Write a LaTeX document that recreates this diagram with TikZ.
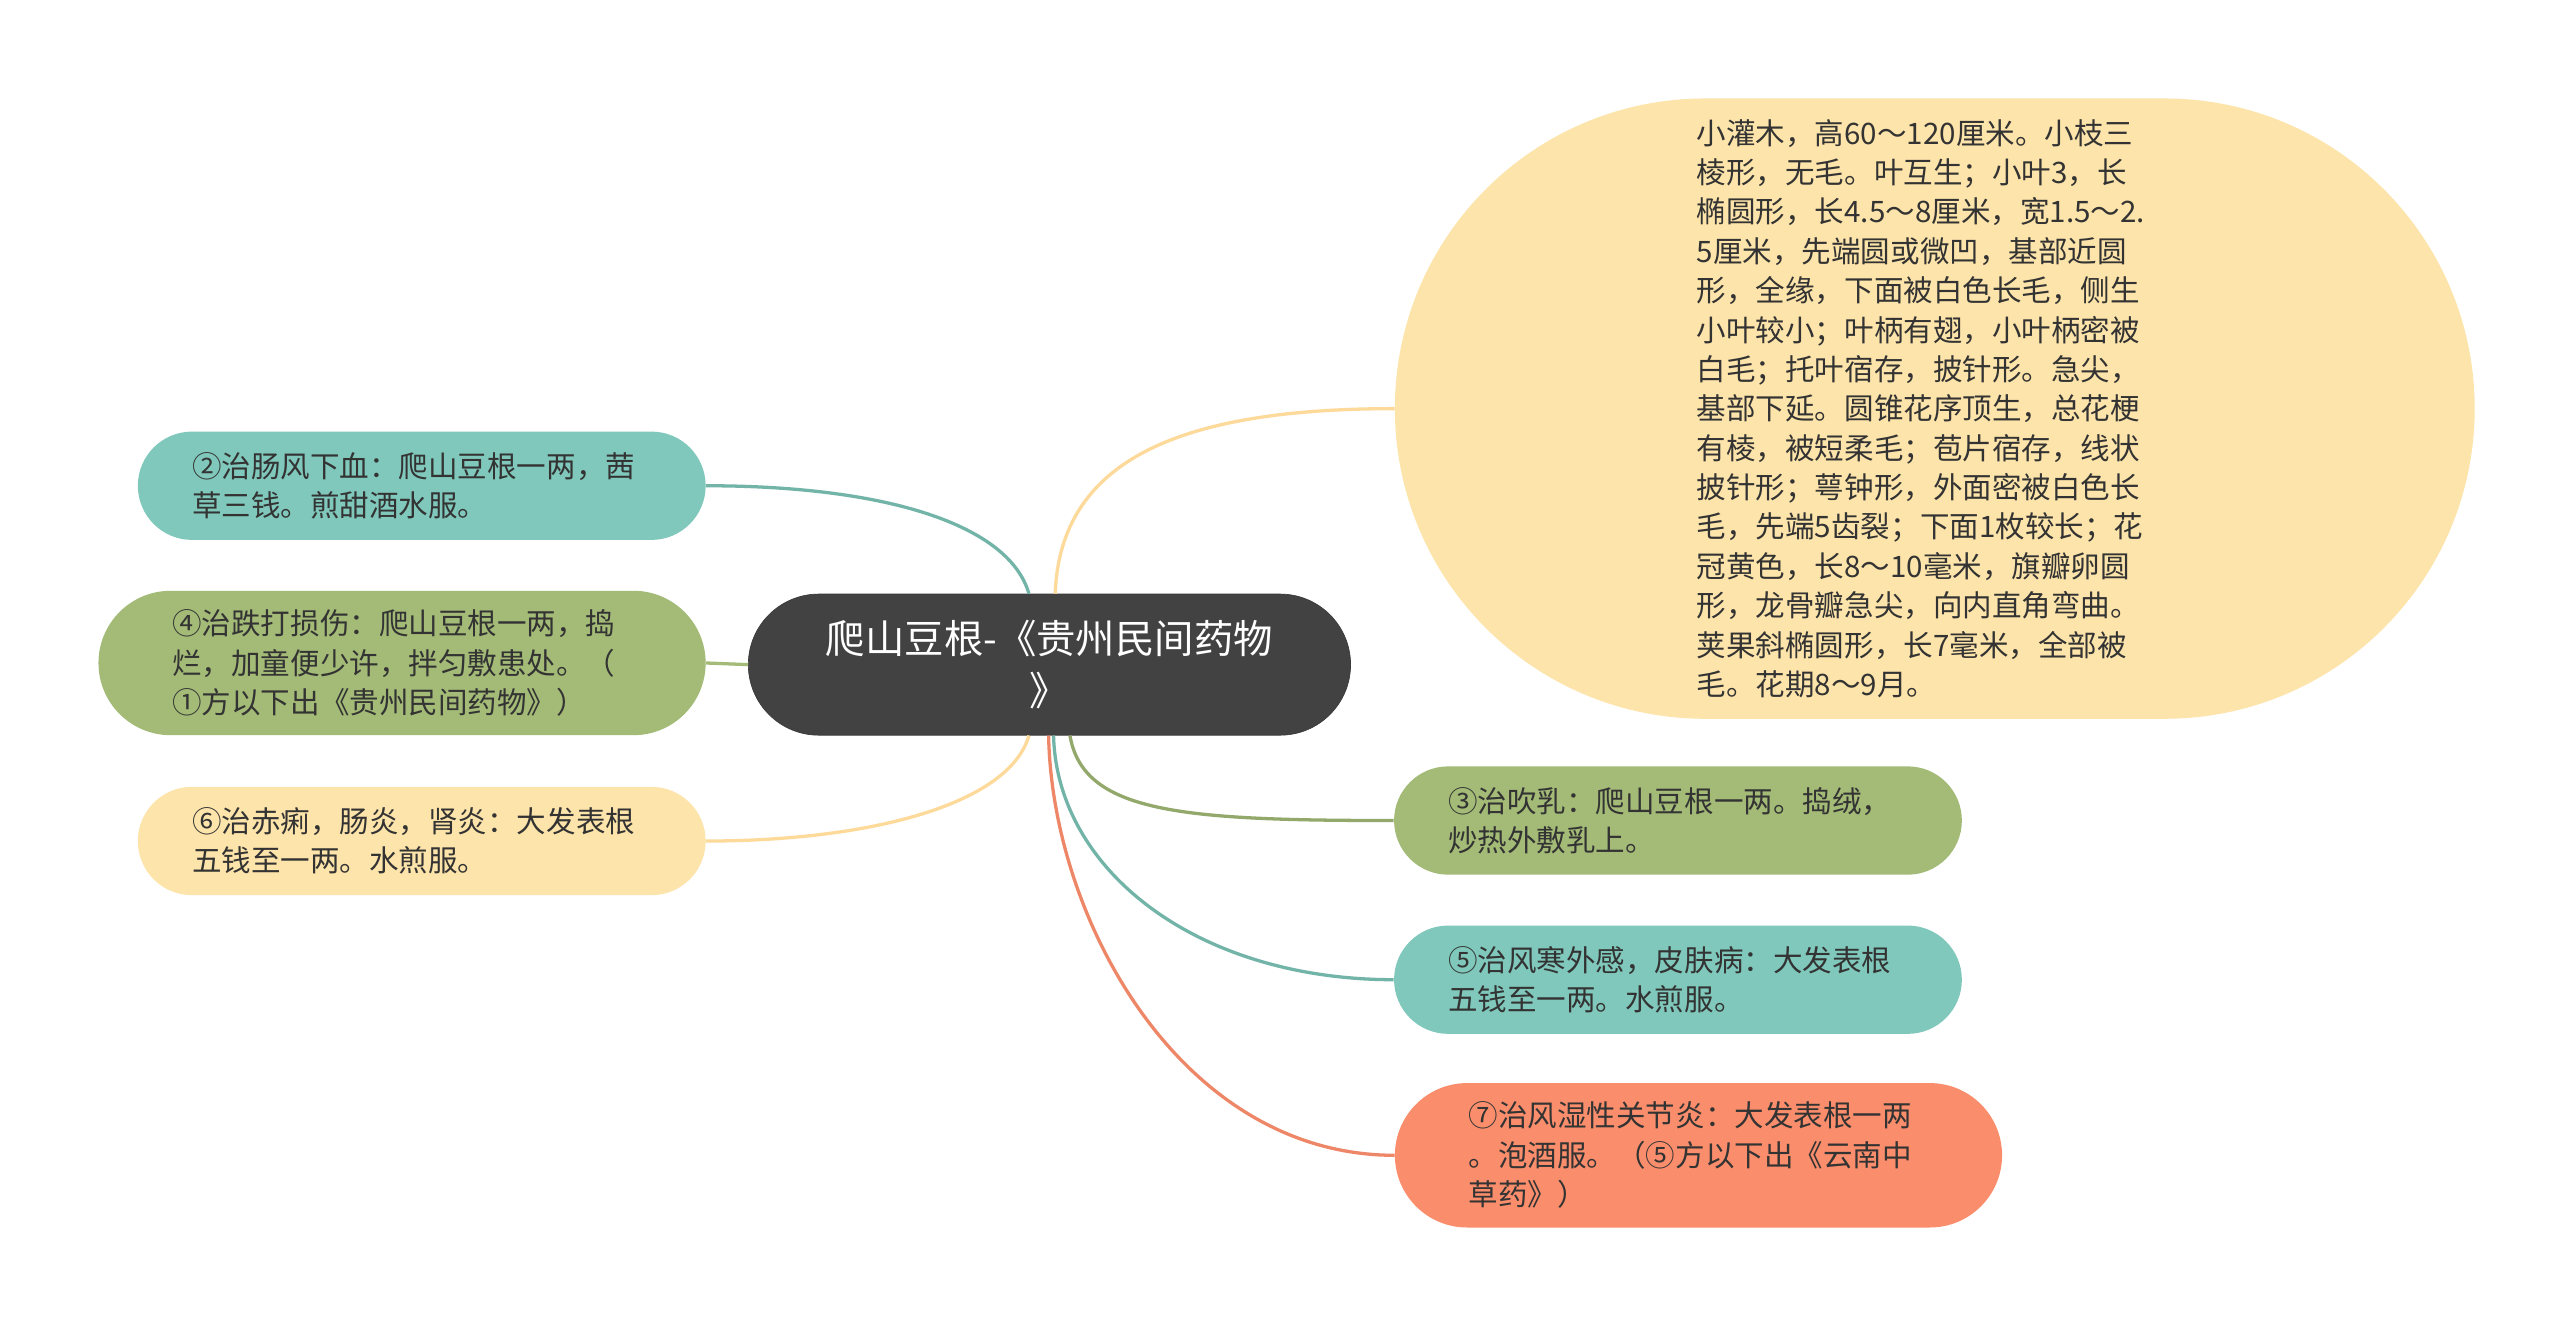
\documentclass[tikz,border=0pt]{standalone}
\usepackage{fontspec}
\setmainfont{Noto Sans CJK SC}
\usetikzlibrary{calc}
\definecolor{rootgray}{HTML}{424242}
\definecolor{leafteal}{HTML}{80C8BB}
\definecolor{leafgreen}{HTML}{A3BB77}
\definecolor{leafyellow}{HTML}{FDE4AA}
\definecolor{leafsalmon}{HTML}{FA8E6C}
\definecolor{inktext}{HTML}{333333}
\tikzset{
  leaf/.style={rectangle, inner xsep=33pt, inner ysep=0pt, text width=280pt, align=left,
    minimum height=66pt, rounded corners=33pt, text=inktext, font=\fontsize{18}{24}\selectfont},
  tallleaf/.style={leaf, inner xsep=45pt, minimum height=88pt, rounded corners=44pt},
  branch/.style={line width=2pt},
}
\begin{document}
\begin{tikzpicture}[x=1pt,y=-1pt]
\useasboundingbox (0,0) rectangle (1560,806);
\fill[white] (0,0) rectangle (1560,806);

\node[fill=rootgray, draw=rootgray!85!black, text=white, font=\fontsize{24}{32}\selectfont, align=center,
  minimum width=367pt, minimum height=86pt, rounded corners=43pt, inner sep=0pt] (root) at (639.5,405)
  {爬山豆根-《贵州民间药物\\》};

\node[leaf, fill=leafyellow, inner xsep=184pt, text width=290pt, minimum height=378pt, rounded corners=189pt]
  (desc) at (1179,249) {小灌木，高60～120厘米。小枝三\\棱形，无毛。叶互生；小叶3，长\\椭圆形，长4.5～8厘米，宽1.5～2.\\5厘米，先端圆或微凹，基部近圆\\形，全缘，下面被白色长毛，侧生\\小叶较小；叶柄有翅，小叶柄密被\\白毛；托叶宿存，披针形。急尖，\\基部下延。圆锥花序顶生，总花梗\\有棱，被短柔毛；苞片宿存，线状\\披针形；萼钟形，外面密被白色长\\毛，先端5齿裂；下面1枚较长；花\\冠黄色，长8～10毫米，旗瓣卵圆\\形，龙骨瓣急尖，向内直角弯曲。\\荚果斜椭圆形，长7毫米，全部被\\毛。花期8～9月。};

\node[leaf, fill=leafteal] (cure2) at (257,296) {②治肠风下血：爬山豆根一两，茜\\草三钱。煎甜酒水服。};
\node[tallleaf, fill=leafgreen] (cure4) at (245,404) {④治跌打损伤：爬山豆根一两，捣\\烂，加童便少许，拌匀敷患处。（\\①方以下出《贵州民间药物》）};
\node[leaf, fill=leafyellow] (cure6) at (257,512.5) {⑥治赤痢，肠炎，肾炎：大发表根\\五钱至一两。水煎服。};
\node[leaf, fill=leafgreen] (cure3) at (1022.5,500) {③治吹乳：爬山豆根一两。捣绒，\\炒热外敷乳上。};
\node[leaf, fill=leafteal] (cure5) at (1022.5,597) {⑤治风寒外感，皮肤病：大发表根\\五钱至一两。水煎服。};
\node[tallleaf, fill=leafsalmon] (cure7) at (1035,704) {⑦治风湿性关节炎：大发表根一两\\。泡酒服。（⑤方以下出《云南中\\草药》）};

\draw[branch, leafyellow!90!orange] ($(root.north)+(3.5,0)$) .. controls +(3,-82) and +(-130,0) .. (desc.west);
\draw[branch, leafteal!90!black] ($(root.north)+(-12.5,0)$) .. controls +(-12,-42) and +(110,0) .. (cure2.east);
\draw[branch, leafgreen] (cure4.east) -- (root.west);
\draw[branch, leafyellow!90!orange] ($(root.south)+(-12.5,0)$) .. controls +(-12,42) and +(100,0) .. (cure6.east);
\draw[branch, leafgreen!90!black] ($(root.south)+(12.5,0)$) .. controls +(8,47) and +(-130,0) .. (cure3.west);
\draw[branch, leafteal!90!black] ($(root.south)+(2.5,0)$) .. controls +(2,82) and +(-120,0) .. (cure5.west);
\draw[branch, leafsalmon!95!black] ($(root.south)+(-0.5,0)$) .. controls +(2,112) and +(-130,0) .. (cure7.west);
\end{tikzpicture}
\end{document}
